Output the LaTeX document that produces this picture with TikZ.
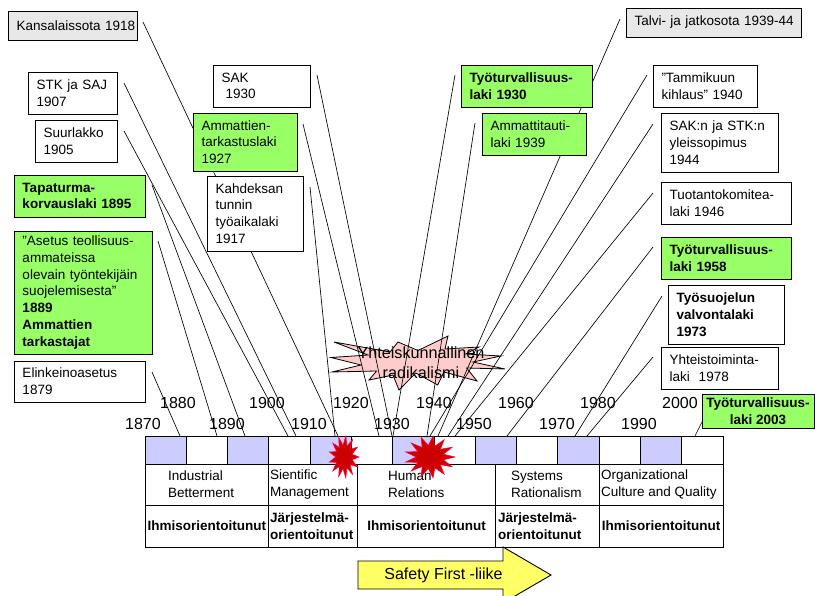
\documentclass[tikz,border=0pt]{standalone}
\usepackage{fontspec}
\setmainfont{Liberation Sans}
\usetikzlibrary{calc}

\definecolor{lawgreen}{RGB}{153,255,102}
\definecolor{wargray}{RGB}{232,232,232}
\definecolor{cellblue}{RGB}{204,204,255}
\definecolor{burstpink}{RGB}{255,204,204}
\definecolor{arrowyellow}{RGB}{255,255,102}
\definecolor{blastred}{RGB}{204,0,0}
\definecolor{blastedge}{RGB}{255,0,60}

% event box: [options] x0 y0 x1 y1 name text
\newcommand\evbox[7][]{%
  \pgfmathsetmacro\evbw{#4-#2}%
  \pgfmathsetmacro\evbh{#5-#3}%
  \pgfmathsetmacro\evtw{\evbw-17}%
  \fill[boxshadow] (#2+1.2,#3+1.2) rectangle (#4+1.2,#5+1.2);
  \node[box,#1,minimum width=\evbw pt,minimum height=\evbh pt,text width=\evtw pt]
    (#6) at ({(#2+#4)/2},{(#3+#5)/2}) {#7};}

% red blast: centre, x radius, y radius
\newcommand\evblast[3]{%
  \begin{scope}[shift={(#1)}]
    \filldraw[fill=blastred,draw=blastedge,line width=0.6pt]
      (0:{#2} and {#3})
      \foreach \i in {0,...,12}{
        -- ({\i*360/13+180/13}:{0.55*#2} and {0.55*#3})
        -- ({(\i+1)*360/13}:{#2} and {#3})
      } -- cycle;
  \end{scope}}

\begin{document}
\begin{tikzpicture}[x=1pt,y=-1pt,
  every node/.style={font=\fontsize{13.5}{16.7}\selectfont,inner sep=0pt},
  box/.style={draw=black,line width=0.9pt,align=left,fill=white,
    execute at begin node={\hyphenpenalty=10000\exhyphenpenalty=10000}},
  law/.style={fill=lawgreen},
  war/.style={fill=wargray},
  strong/.style={font=\fontsize{13.5}{16.7}\selectfont\bfseries},
  decade/.style={font=\fontsize{16}{19}\selectfont},
  boxshadow/.style={fill=black!35},
  link/.style={draw=black,line width=0.65pt},
  grid/.style={draw=black,line width=1pt}]

\useasboundingbox (0,0) rectangle (815,596);
\fill[white] (0,0) rectangle (815,596);

% social radicalism burst
\draw[fill=burstpink,line width=0.8pt]
  (418,350.5) -- (448,336) -- (445,349) -- (479,347) -- (465.5,354) -- (501,356)
  -- (473,362) -- (505,369) -- (466.6,368) -- (477,381) -- (444,372) -- (437.7,385)
  -- (415.8,373) -- (399,390) -- (393,375) -- (369,380) -- (376.6,371) -- (332,372)
  -- (361,365) -- (331,357.5) -- (368,355) -- (334,342) -- (390,352) -- (398,342) -- cycle;
\node[font=\fontsize{16.2}{20}\selectfont,align=center] (radik) at (421,363)
  {Yhteiskunnallinen\\radikalismi};

% connector ends
\coordinate (s-kansa) at (143,22);   \coordinate (e-kansa) at (338,436);
\coordinate (s-stk) at (124,83);     \coordinate (e-stk) at (296,436);
\coordinate (s-suur) at (124,131);   \coordinate (e-suur) at (288,436);
\coordinate (s-tapa) at (152,185);   \coordinate (e-tapa) at (245,436);
\coordinate (s-asetus) at (158,241); \coordinate (e-asetus) at (217,436);
\coordinate (s-elink) at (152,372);  \coordinate (e-elink) at (180,436);
\coordinate (s-kahd) at (310,187);   \coordinate (e-kahd) at (335,436);
\coordinate (s-amtark) at (303,124); \coordinate (e-amtark) at (379,436);
\coordinate (s-sak) at (317,75);     \coordinate (e-sak) at (392,436);
\coordinate (s-tt1930) at (455,75);  \coordinate (e-tt1930) at (393,436);
\coordinate (s-amtauti) at (475,123);\coordinate (e-amtauti) at (427,436);
\coordinate (s-talvi) at (620,19);   \coordinate (e-talvi) at (438,436);
\coordinate (s-tammi) at (647,75);   \coordinate (e-tammi) at (430,436);
\coordinate (s-yleis) at (653,124);  \coordinate (e-yleis) at (448,436);
\coordinate (s-tuot) at (653,193);   \coordinate (e-tuot) at (455,436);
\coordinate (s-tt1958) at (653,247); \coordinate (e-tt1958) at (507,436);
\coordinate (s-tsuoj) at (662,296);  \coordinate (e-tsuoj) at (575,436);
\coordinate (s-yhteis) at (653,357); \coordinate (e-yhteis) at (587,436);
\coordinate (s-tt2003) at (702,422); \coordinate (e-tt2003) at (695,436);

\foreach \n in {kansa,stk,suur,tapa,asetus,elink,kahd,amtark,sak,tt1930,
                amtauti,talvi,tammi,yleis,tuot,tt1958,tsuoj,yhteis,tt2003}
  \draw[link] (s-\n) -- (e-\n);

% events, left side
\evbox[war]{8}{11}{137}{40}{kansa}{Kansalaissota~1918}
\evbox{28}{72}{117}{114}{stk}{STK~ja~SAJ\\1907}
\evbox{35}{120}{117}{162}{suur}{Suurlakko\\1905}
\evbox[law,strong]{14}{175}{145}{217}{tapa}{Tapaturma-\\korvauslaki~1895}
\evbox[law]{14}{231}{152}{354}{asetus}{”Asetus~teollisuus-\\ammateissa\\olevain~työntekijäin\\suojelemisesta”\\\textbf{1889}\\\textbf{Ammattien}\\\textbf{tarkastajat}}
\evbox{14}{361}{145}{402}{elink}{Elinkeinoasetus\\1879}

% events, middle
\evbox{213}{65}{310}{107}{sak}{SAK\\\hspace*{4pt}1930}
\evbox[law]{193}{113}{297}{171}{amtark}{Ammattien-\\tarkastuslaki\\1927}
\evbox{207}{176}{303}{251}{kahd}{Kahdeksan\\tunnin\\työaikalaki\\1917}
\evbox[law,strong]{461}{65}{592}{107}{tt1930}{Työturvallisuus-\\laki~1930}
\evbox[law]{482}{113}{586}{155}{amtauti}{Ammattitauti-\\laki~1939}

% events, right side
\evbox[war]{626}{8}{801}{37}{talvi}{Talvi-~ja~jatkosota~1939-44}
\evbox{653}{65}{757}{107}{tammi}{”Tammikuun\\kihlaus”~1940}
\evbox{661}{113}{778}{172}{yleis}{SAK:n~ja~STK:n\\yleissopimus\\1944}
\evbox{661}{182}{791}{224}{tuot}{Tuotantokomitea-\\laki~1946}
\evbox[law,strong]{661}{237}{791}{279}{tt1958}{Työturvallisuus-\\laki~1958}
\evbox[strong]{668}{285}{784}{344}{tsuoj}{Työsuojelun\\valvontalaki\\1973}
\evbox{661}{347}{778}{389}{yhteis}{Yhteistoiminta-\\laki~~1978}
\fill[boxshadow] (703.2,395.2) rectangle (815.2,429.2);
\node[box,law,strong,align=center,minimum width=112pt,minimum height=34pt]
  (tt2003) at (758,411) {Työturvallisuus-\\laki 2003};

% decade band
\foreach \i in {0,...,13}{
  \pgfmathsetmacro\xa{145+\i*578/14}
  \pgfmathsetmacro\xb{145+(\i+1)*578/14}
  \pgfmathparse{mod(\i,2)==0 ? "cellblue" : "white"}
  \edef\cellfill{\pgfmathresult}
  \draw[grid,fill=\cellfill] (\xa,436) rectangle (\xb,464);
}

% decade labels
\foreach \yr/\xx in {1880/178,1900/267,1920/351,1940/434,1960/516,1980/598,2000/680}
  \node[decade] (y\yr) at (\xx,403) {\yr};
\foreach \yr/\xx in {1870/143,1890/227,1910/309,1930/392,1950/474,1970/557,1990/639}
  \node[decade] (y\yr) at (\xx,424) {\yr};

% eras table
\draw[grid] (145,464) rectangle (723,547);
\draw[grid] (145,505) -- (723,505);
\foreach \xx in {268.7,357.7,495.7,599}
  \draw[grid] (\xx,464) -- (\xx,547);

\node[anchor=west,align=left] (era1) at (168,484.5) {Industrial\\Betterment};
\node[anchor=west,align=left] (era2) at (270,484.5) {Sientific\\Management};
\node[anchor=west,align=left] (era3) at (388,484.5) {Human\\Relations};
\node[anchor=west,align=left] (era4) at (511,484.5) {Systems\\Rationalism};
\node[anchor=west,align=left] (era5) at (601,484.5) {Organizational\\Culture and Quality};

\node[strong] (ori1) at (206.8,526) {Ihmisorientoitunut};
\node[strong,anchor=west,align=left] (ori2) at (270,526) {Järjestelmä-\\orientoitunut};
\node[strong] (ori3) at (426.7,526) {Ihmisorientoitunut};
\node[strong,anchor=west,align=left] (ori4) at (498,526) {Järjestelmä-\\orientoitunut};
\node[strong] (ori5) at (661,526) {Ihmisorientoitunut};

% wars as red blasts
\coordinate (blast1) at (344,457);
\coordinate (blast2) at (430,457);
\evblast{blast1}{15}{21}
\evblast{blast2}{25}{21}

% safety first movement
\draw[fill=arrowyellow,line width=0.9pt]
  (358,561) -- (503,561) -- (503,547) -- (551,575) -- (503,603) -- (503,589) -- (358,589) -- cycle;
\node[font=\fontsize{16}{19}\selectfont] (safety) at (443.5,575) {Safety First -liike};

\end{tikzpicture}
\end{document}
